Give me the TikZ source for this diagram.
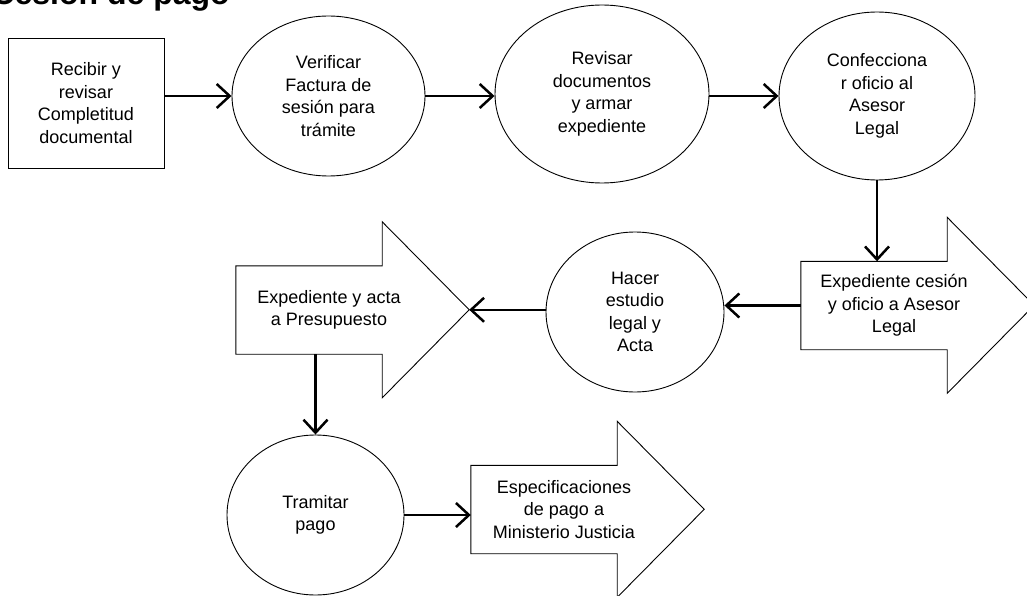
\documentclass[tikz,border=0pt]{standalone}
\usepackage{fontspec}
\setmainfont{Liberation Sans}
\usepackage{tikz}
\usetikzlibrary{arrows.meta,shapes.geometric}

\newcommand{\blockarrow}[1]{%
  \draw[outline] (#1.north west) -- ([xshift=-40pt]#1.north east) -- ++(0,-44) -- ++(87,88) coordinate (#1-tip) -- ++(-87,88) -- ([xshift=-40pt]#1.south east) -- (#1.south west) -- cycle;}

\begin{document}
\begin{tikzpicture}[x=1pt, y=-1pt, font=\fontsize{18}{22.5}\selectfont, outline/.style = {line width=0.9pt}, task/.style = {draw, ellipse, outline, align=center, inner sep=0pt}, doc/.style = {draw, rectangle, outline, align=center}, block/.style = {minimum width=186pt, minimum height=88pt, inner sep=0pt, align=center}, flow/.style = {line width=2.5pt, -{Straight Barb[length=13pt, width=24pt]}}]
\useasboundingbox (0,0) rectangle (1027,596);

\node[anchor=base east, inner sep=0pt, font=\bfseries\fontsize{32}{38}\selectfont] (title) at (230,5) {Cesión de pago};

\node[doc, minimum width=156pt, minimum height=130pt] (recibir) at (86,103) {Recibir y\\revisar\\Completitud\\documental};
\node[task, minimum width=193pt, minimum height=160pt] (verificar) at (328.5,96) {Verificar\\Factura de\\sesión para\\trámite};
\node[task, minimum width=214pt, minimum height=178pt] (revisar) at (602,94) {Revisar\\documentos\\y armar\\expediente};
\node[task, minimum width=196pt, minimum height=168pt] (confeccionar) at (877,96) {Confecciona\\r oficio al\\Asesor\\Legal};
\node[block] (expCesion) at (894,305.5) {Expediente cesión\\y oficio a Asesor\\Legal};
\node[task, minimum width=178pt, minimum height=160pt] (hacer) at (635,312) {Hacer\\estudio\\legal y\\Acta};
\node[block] (expActa) at (329,310) {Expediente y acta\\a Presupuesto};
\node[task, minimum width=177pt, minimum height=160pt] (tramitar) at (315.5,515) {Tramitar\\pago};
\node[block] (especificaciones) at (564,509.5) {Especificaciones\\de pago a\\Ministerio Justicia};

\blockarrow{expCesion}
\blockarrow{expActa}
\blockarrow{especificaciones}

\draw[flow] (recibir.east |- verificar.west) -- (verificar.west);
\draw[flow] (verificar.east) -- (verificar.east -| revisar.west);
\draw[flow] (confeccionar.west -| revisar.east) -- (confeccionar.west);
\draw[flow] (confeccionar.south) -- (confeccionar.south |- expCesion.north);
\draw[flow] (expCesion.west) -- (expCesion.west -| hacer.east);
\draw[flow] (hacer.west |- expActa-tip) -- (expActa-tip);
\draw[flow] (expActa.south -| tramitar.north) -- (tramitar.north);
\draw[flow] (tramitar.east) -- (tramitar.east -| especificaciones.west);
\end{tikzpicture}
\end{document}
